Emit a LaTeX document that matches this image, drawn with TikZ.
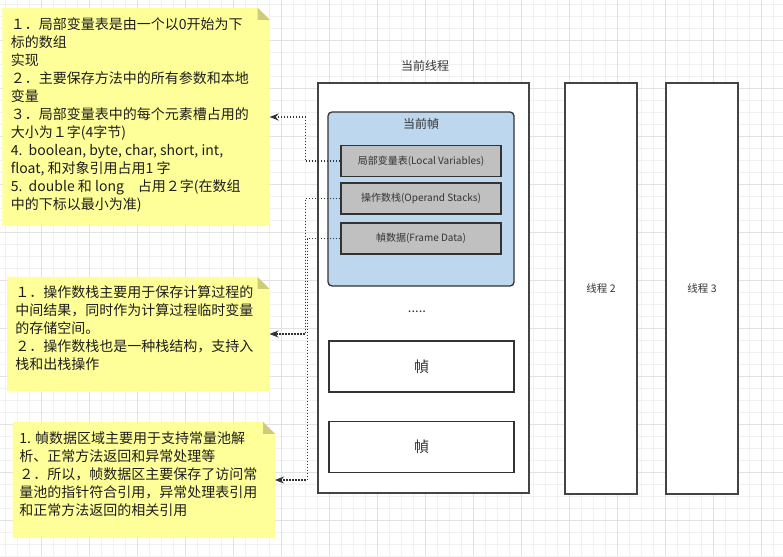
\documentclass[tikz,border=0pt]{standalone}
\usepackage{fontspec}
\setmainfont{Noto Sans CJK SC}
\usetikzlibrary{arrows.meta}

\definecolor{notefill}{RGB}{255,255,153}
\definecolor{notefold}{RGB}{204,204,122}
\definecolor{framefill}{RGB}{189,215,238}
\definecolor{slotfill}{RGB}{192,192,192}
\definecolor{edge}{RGB}{68,68,68}
\definecolor{ink}{RGB}{51,51,51}
\definecolor{notetextcol}{RGB}{30,30,30}
\definecolor{gridminor}{RGB}{241,241,241}
\definecolor{gridmajor}{RGB}{226,226,226}

\pgfdeclarelayer{grid}
\pgfdeclarelayer{background}
\pgfsetlayers{grid,background,main}

\begin{document}
\begin{tikzpicture}
            [
                x=1pt, y=-1pt,
                thread/.style={draw=edge, line width=1.6pt, fill=white, inner sep=0pt,
                    font=\fontsize{10.5}{12}\selectfont, text=ink},
                curframe/.style={draw=ink, line width=1.3pt, fill=framefill,
                    rounded corners=4pt, inner sep=0pt},
                slot/.style={draw=ink, line width=1.5pt, fill=slotfill, inner sep=0pt,
                    minimum width=160pt, minimum height=31pt,
                    font=\fontsize{10}{12}\selectfont, text=ink},
                stackframe/.style={draw=ink, line width=1.5pt, fill=white, inner sep=0pt,
                    minimum width=185pt, minimum height=51pt,
                    font=\fontsize{15}{16}\selectfont, text=ink},
                boxtitle/.style={font=\fontsize{12}{14}\selectfont, text=ink, inner sep=0pt},
                note/.style={inner sep=0pt},
                notetext/.style={anchor=north west, align=left, inner sep=0pt,
                    font=\fontsize{14}{18}\selectfont, text=notetextcol},
                link/.style={draw=ink, line width=1.3pt, dash pattern=on 1.3pt off 1.7pt,
                    -{Stealth[length=9pt, width=7pt]}}
            ]
            \useasboundingbox (0,0) rectangle (783,556);

            % grid paper
            \begin{pgfonlayer}{grid}
                \fill[white] (0,0) rectangle (783,556);
                \foreach \x in {5,17,...,781}
                    \draw[gridminor, line width=0.8pt] (\x,0) -- (\x,556);
                \foreach \y in {4,16,...,556}
                    \draw[gridminor, line width=0.8pt] (0,\y) -- (783,\y);
                \foreach \x in {41,89,...,761}
                    \draw[gridmajor, line width=0.8pt] (\x,0) -- (\x,556);
                \foreach \y in {40,88,...,520}
                    \draw[gridmajor, line width=0.8pt] (0,\y) -- (783,\y);
            \end{pgfonlayer}

            % threads
            \node[thread, minimum width=211pt, minimum height=410pt] (cur) at (423.5,288) {};
            \node[boxtitle] (curtitle) at (425,66) {当前线程};
            \node[thread, minimum width=72pt, minimum height=411pt] (t2) at (601,288.5) {线程 2};
            \node[thread, minimum width=72pt, minimum height=411pt] (t3) at (702,288.5) {线程 3};

            % current frame
            \node[curframe, minimum width=186pt, minimum height=174pt] (cf) at (421,199) {};
            \node[boxtitle] (cftitle) at (421,124) {当前幀};
            \node[slot] (lv) at (421,161) {局部变量表(Local Variables)};
            \node[slot] (os) at (421,198.7) {操作数栈(Operand Stacks)};
            \node[slot] (fd) at (421,238.7) {幀数据(Frame Data)};

            % other frames
            \node[font=\fontsize{13}{14}\selectfont, text=ink, inner sep=0pt] (dots) at (417,312) {.....};
            \node[stackframe] (f1) at (421.5,366.5) {幀};
            \node[stackframe] (f2) at (421.5,447) {幀};

            % notes
            \node[note, minimum width=267pt, minimum height=218pt] (note1) at (136,117) {};
            \node[note, minimum width=262pt, minimum height=114pt] (note2) at (138.3,334) {};
            \node[note, minimum width=262pt, minimum height=116pt] (note3) at (143.8,480) {};
            \begin{pgfonlayer}{background}
                \foreach \n in {note1,note2,note3} {
                    \fill[notefill] (\n.north west) -- ([xshift=-12pt]\n.north east)
                        -- ([yshift=-12pt]\n.north east) -- (\n.south east)
                        -- (\n.south west) -- cycle;
                    \fill[notefold] ([xshift=-12pt]\n.north east)
                        -- ([xshift=-12pt, yshift=-12pt]\n.north east)
                        -- ([yshift=-12pt]\n.north east) -- cycle;
                }
            \end{pgfonlayer}

            \node[notetext] (note1txt) at ([shift={(8.3,10)}]note1.north west) {
                １．局部变量表是由一个以0开始为下\\
                标的数组\\
                实现\\
                ２．主要保存方法中的所有参数和本地\\
                变量\\
                ３．局部变量表中的每个元素槽占用的\\
                大小为１字(4字节)\\
                4.\ \ boolean, byte, char, short, int,\\
                float, 和对象引用占用1 字\\
                5.\ \ double 和 long　占用２字(在数组\\
                中的下标以最小为准)
            };
            \node[notetext] (note2txt) at ([shift={(8,9)}]note2.north west) {
                １．操作数栈主要用于保存计算过程的\\
                中间结果，同时作为计算过程临时变量\\
                的存储空间。\\
                ２．操作数栈也是一种栈结构，支持入\\
                栈和出栈操作
            };
            \node[notetext] (note3txt) at ([shift={(6.6,10)}]note3.north west) {
                1. 幀数据区域主要用于支持常量池解\\
                析、正常方法返回和异常处理等\\
                ２．所以，帧数据区主要保存了访问常\\
                量池的指针符合引用，异常处理表引用\\
                和正常方法返回的相关引用
            };

            % links from the slots to the notes
            \draw[link] (lv.west) -- ++(-35,0) |- (note1.east);
            \draw[link] (os.west) -- ++(-35,0) |- (note2.east);
            \draw[link] (fd.west) -- ++(-33,0) |- (note3.east);
        \end{tikzpicture}
\end{document}
